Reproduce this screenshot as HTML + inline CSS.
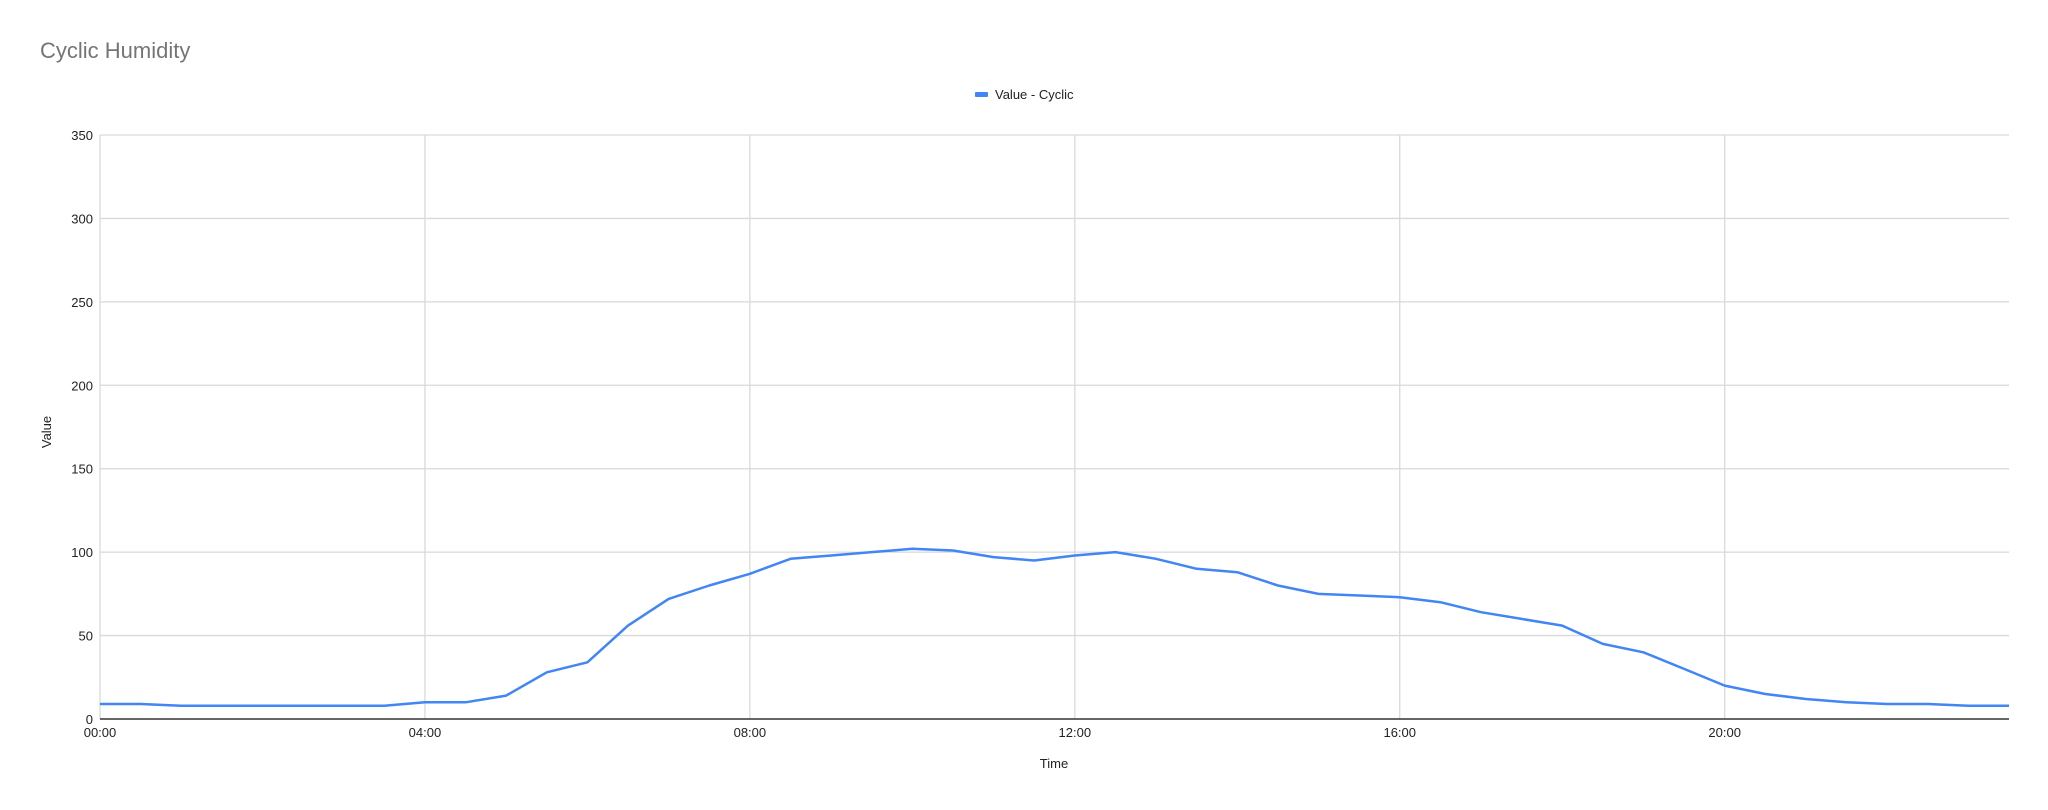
<!DOCTYPE html>
<html><head><meta charset="utf-8"><style>
html,body{margin:0;padding:0;background:#fff;}
svg{display:block;font-family:"Liberation Sans",Arial,sans-serif;}
</style></head><body>
<svg id="c" width="2048" height="810" xmlns="http://www.w3.org/2000/svg">
<rect width="2048" height="810" fill="#fff"/>
<text x="40" y="58" font-size="22" fill="#757575">Cyclic Humidity</text>
<rect x="975" y="92" width="13" height="5" rx="1" fill="#4285f4"/>
<text x="995" y="99" font-size="13" fill="#222">Value - Cyclic</text>
<g id="grid" stroke="#d9d9d9" stroke-width="1.3"></g>
<g id="ylab" font-size="13" fill="#222" text-anchor="end"></g>
<g id="xlab" font-size="13" fill="#222" text-anchor="middle"></g>
<line x1="100" y1="719" x2="2009" y2="719" stroke="#333" stroke-width="1.5"/>
<polyline id="line" fill="none" stroke="#4285f4" stroke-width="2.5" stroke-linejoin="round"/>
<text x="1054" y="768" font-size="13" fill="#222" text-anchor="middle">Time</text>
<text transform="translate(51,432) rotate(-90)" font-size="13" fill="#222" text-anchor="middle">Value</text>
</svg>
<script>
var L=100,R=2009,T=135,B=719,ns="http://www.w3.org/2000/svg";
function X(h){return L+h*(R-L)/23.5;}
function Y(v){return B-v*(B-T)/350;}
var g=document.getElementById('grid'),yl=document.getElementById('ylab'),xl=document.getElementById('xlab');
for(var v=50;v<=350;v+=50){var l=document.createElementNS(ns,'line');l.setAttribute('x1',L);l.setAttribute('x2',R);l.setAttribute('y1',Y(v));l.setAttribute('y2',Y(v));g.appendChild(l);}
for(var v=0;v<=350;v+=50){var t=document.createElementNS(ns,'text');t.setAttribute('x',93);t.setAttribute('y',Y(v)+5);t.textContent=v;yl.appendChild(t);}
for(var h=0;h<=20;h+=4){var l=document.createElementNS(ns,'line');l.setAttribute('x1',X(h));l.setAttribute('x2',X(h));l.setAttribute('y1',T);l.setAttribute('y2',B);g.appendChild(l);
var t=document.createElementNS(ns,'text');t.setAttribute('x',X(h));t.setAttribute('y',737);t.textContent=(h<10?'0':'')+h+':00';xl.appendChild(t);}
var d=[9,9,8,8,8,8,8,8,10,10,14,28,34,56,72,80,87,96,98,100,102,101,97,95,98,100,96,90,88,80,75,74,73,70,64,60,56,45,40,30,20,15,12,10,9,9,8,8];
var p=d.map(function(v,i){return X(i/2).toFixed(1)+','+Y(v).toFixed(1);}).join(' ');
document.getElementById('line').setAttribute('points',p);
</script>
</body></html>
